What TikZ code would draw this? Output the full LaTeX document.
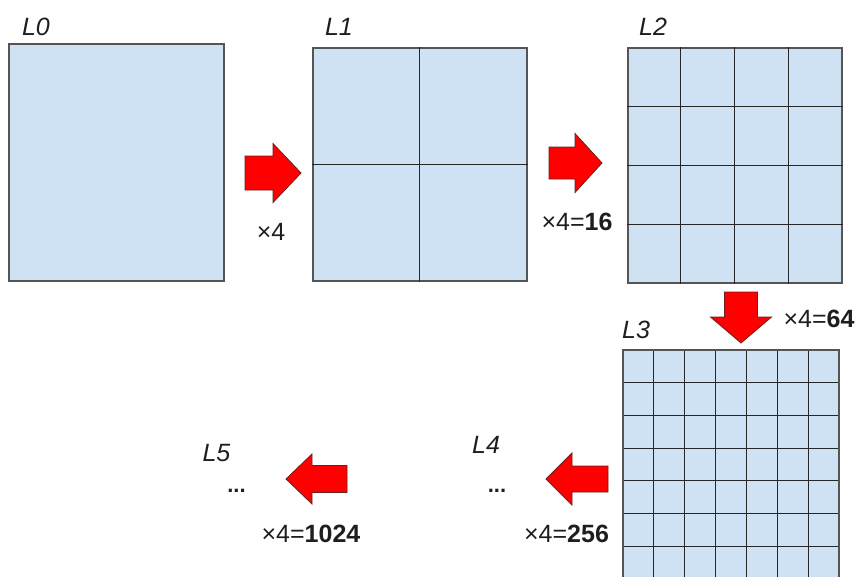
\documentclass[tikz,border=0pt]{standalone}
\usepackage{fontspec}
\setmainfont{Liberation Sans}
\usetikzlibrary{calc}
\definecolor{cellblue}{HTML}{CFE2F3}
\definecolor{edgegray}{HTML}{555555}
\definecolor{gridline}{HTML}{262626}
\definecolor{arrowred}{HTML}{FF0000}
\definecolor{arrowedge}{HTML}{6B2020}
\definecolor{txt}{HTML}{1E1E1E}
\tikzset{
  lvlbox/.style={draw=edgegray, line width=1.5pt, fill=cellblue, inner sep=0pt, anchor=north west},
  gridln/.style={draw=gridline, line width=1.1pt},
  blockarrow/.style={fill=arrowred, draw=arrowedge, line width=0.8pt, line join=miter},
  lvllabel/.style={font=\fontsize{25}{29}\selectfont\itshape, text=txt, anchor=base, inner sep=0pt},
  factor/.style={font=\fontsize{25}{29}\selectfont, text=txt, anchor=base, inner sep=0pt},
  dots/.style={font=\fontsize{22}{26}\selectfont\bfseries, text=txt, anchor=base, inner sep=0pt}
}
\begin{document}
\begin{tikzpicture}[x=1pt,y=-1pt]
\useasboundingbox (0,0) rectangle (857,576);

% L0
\node[lvlbox, minimum width=215pt, minimum height=237pt] (b0) at (8,43) {};
\node[lvllabel] (l0) at (36,35) {L0};

% L1
\node[lvlbox, minimum width=214pt, minimum height=233pt] (b1) at (312,47) {};
\draw[gridln] (b1.north) -- (b1.south);
\draw[gridln] (b1.west) -- (b1.east);
\node[lvllabel] (l1) at (339,35) {L1};

% L2
\node[lvlbox, minimum width=214pt, minimum height=235pt] (b2) at (627,47) {};
\foreach \i in {1,2,3} {
  \draw[gridln] ($(b2.north west)!\i/4!(b2.north east)$) -- ($(b2.south west)!\i/4!(b2.south east)$);
  \draw[gridln] ($(b2.north west)!\i/4!(b2.south west)$) -- ($(b2.north east)!\i/4!(b2.south east)$);
}
\node[lvllabel] (l2) at (653,35) {L2};

% L3 (runs off the bottom edge)
\begin{scope}
\clip (0,0) rectangle (857,576);
\fill[cellblue] (623,350) rectangle (839,590);
\foreach \i in {1,...,6} {
  \draw[gridln] (623+\i*30.857,350) -- (623+\i*30.857,590);
}
\foreach \j in {1,...,7} {
  \draw[gridln] (623,350+\j*32.7) -- (839,350+\j*32.7);
}
\draw[draw=edgegray, line width=1.5pt] (623,590) -- (623,350) -- (839,350) -- (839,590);
\end{scope}
\node[lvllabel] (l3) at (636,338) {L3};

% L4, L5
\node[lvllabel] (l4) at (486,453) {L4};
\node[dots] (d4) at (497,492) {...};
\node[lvllabel] (l5) at (216.5,461) {L5};
\node[dots] (d5) at (236.5,492) {...};

% block arrows
\draw[blockarrow] (245,156) -- (273,156) -- (273,143.5) -- (301,173) -- (273,202.5) -- (273,190) -- (245,190) -- cycle;
\draw[blockarrow] (549,147) -- (575,147) -- (575,133.5) -- (602,163) -- (575,192.5) -- (575,179) -- (549,179) -- cycle;
\draw[blockarrow] (724.5,292) -- (757.5,292) -- (757.5,317) -- (771.5,317) -- (741,343) -- (710.5,317) -- (724.5,317) -- cycle;
\draw[blockarrow] (608,466) -- (572,466) -- (572,453) -- (546,479) -- (572,505) -- (572,492) -- (608,492) -- cycle;
\draw[blockarrow] (347,465.5) -- (312,465.5) -- (312,454) -- (286,479) -- (312,504) -- (312,492.5) -- (347,492.5) -- cycle;

% factors
\node[factor] (f1) at (271,240) {×4};
\node[factor] (f2) at (577,230) {×4=\textbf{16}};
\node[factor] (f3) at (819,327) {×4=\textbf{64}};
\node[factor] (f4) at (566.5,542) {×4=\textbf{256}};
\node[factor] (f5) at (311,542) {×4=\textbf{1024}};
\end{tikzpicture}
\end{document}
